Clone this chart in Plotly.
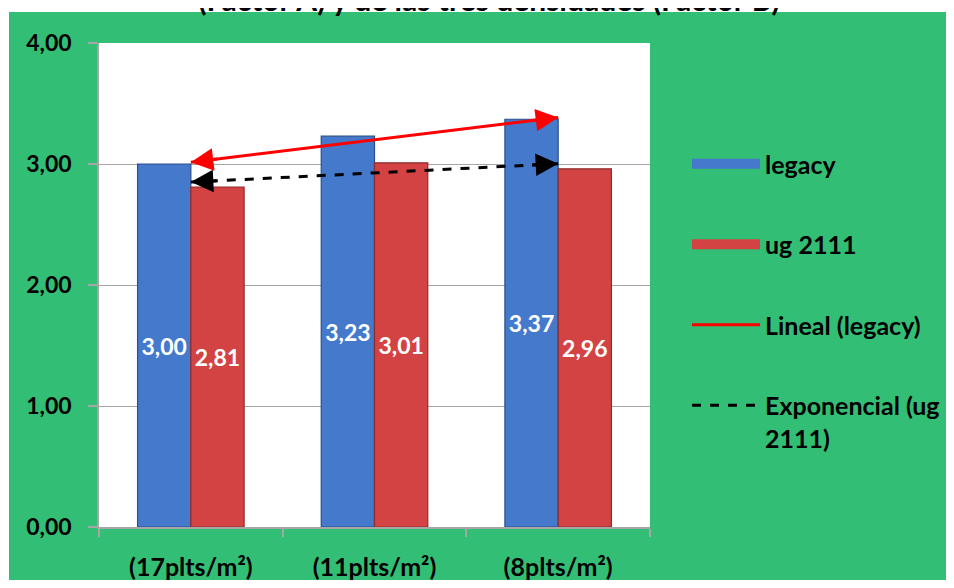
import numpy as np
import plotly.graph_objects as go

categories = ["(17plts/m²)", "(11plts/m²)", "(8plts/m²)"]
legacy = [3.00, 3.23, 3.37]
ug2111 = [2.81, 3.01, 2.96]
y_ticks = [0, 1, 2, 3, 4]
title_text = "(Factor A) y de las tres densidades (Factor B)"

FONT = "Lato"
GREEN = "#33BE75"
GRID = "#A6A6A6"
BLUE = "#4479CB"
RED = "#D44343"

xs = np.arange(len(categories), dtype=float)

# Excel-style trendlines
lin = np.polyfit(xs, legacy, 1)
lin_f = lambda x: float(np.polyval(lin, x))
expc = np.polyfit(xs, np.log(ug2111), 1)
exp_f = lambda x: float(np.exp(np.polyval(expc, x)))

# page has an 8px body margin: figure is placed at (8, 8); 8 + 938 + 8 = 954
W, H = 938, 572
px_left, px_right, px_top, px_bot = 91, 642, 35, 519


def px2x(p):
    return (p - px_left) / (px_right - px_left)


def px2y(p):
    return (px_bot - p) / (px_bot - px_top)


fig = go.Figure()
fig.add_trace(go.Bar(
    x=xs, y=legacy, name="legacy", showlegend=False,
    marker=dict(color=BLUE, line=dict(color="#2B4F8C", width=1.2)),
    texttemplate="%{y:.2f}", textposition="inside", insidetextanchor="middle",
    constraintext="none", cliponaxis=False,
    textfont=dict(family=FONT, size=23, color="white", weight="bold"),
))
fig.add_trace(go.Bar(
    x=xs, y=ug2111, name="ug 2111", showlegend=False,
    marker=dict(color=RED, line=dict(color="#8E2C2C", width=1.2)),
    texttemplate="%{y:.2f}", textposition="inside", insidetextanchor="middle",
    constraintext="none", cliponaxis=False,
    textfont=dict(family=FONT, size=23, color="white", weight="bold"),
))
# legend entries for the bars (wide bar-like swatches, as in the reference)
fig.add_trace(go.Scatter(
    x=[None], y=[None], mode="lines", name="legacy", legendgroup="a",
    line=dict(color=BLUE, width=14), hoverinfo="skip",
))
fig.add_trace(go.Scatter(
    x=[None], y=[None], mode="lines", name="ug 2111", legendgroup="b",
    line=dict(color=RED, width=14), hoverinfo="skip",
))
fig.add_trace(go.Scatter(
    x=xs, y=[lin_f(v) for v in xs], mode="lines", name="Lineal (legacy)",
    legendgroup="c", line=dict(color="#FF0000", width=3),
))
fig.add_trace(go.Scatter(
    x=xs, y=[exp_f(v) for v in xs], mode="lines", name="Exponencial (ug<br>2111)",
    legendgroup="d", line=dict(color="black", width=3, dash="dash"),
))

annotations = []


def arrow(x, f, dx, color):
    annotations.append(dict(
        x=x, y=f(x), ax=x + dx, ay=f(x + dx), xref="x", yref="y",
        axref="x", ayref="y", text="", showarrow=True, arrowhead=2,
        arrowsize=1.5, arrowwidth=3, arrowcolor=color, standoff=0,
    ))


arrow(0, lin_f, 0.15, "#FF0000")
arrow(2, lin_f, -0.15, "#FF0000")
arrow(0, exp_f, 0.15, "black")
arrow(2, exp_f, -0.15, "black")

shapes = [
    # green chart area (white strip left and top, as in the reference)
    dict(type="rect", xref="paper", yref="paper", layer="below",
         x0=px2x(1), x1=px2x(W + 8), y0=px2y(H + 8), y1=px2y(4),
         fillcolor=GREEN, line=dict(width=0)),
    dict(type="rect", xref="paper", yref="paper", layer="below",
         x0=0, x1=1, y0=0, y1=1, fillcolor="white", line=dict(width=0)),
]

fig.update_layout(
    width=W, height=H,
    margin=dict(l=px_left, r=W - px_right, t=px_top, b=H - px_bot,
                autoexpand=False),
    paper_bgcolor="white", plot_bgcolor="white",
    separators=",.",
    barmode="group", bargap=0.42, bargroupgap=0,
    font=dict(family=FONT, size=20, color="black"),
    title=dict(text=title_text, x=481 / W, xanchor="center",
               yref="container", y=1 - 3 / H, yanchor="bottom",
               font=dict(family=FONT, size=30, color="black", weight="bold")),
    showlegend=True,
    legend=dict(x=px2x(679), y=px2y(133), xanchor="left", yanchor="top",
                bgcolor="rgba(0,0,0,0)", tracegroupgap=45, valign="top",
                itemwidth=68,
                font=dict(family=FONT, size=25, color="black", weight="bold")),
    shapes=shapes,
    annotations=annotations,
)
fig.update_xaxes(
    range=[-0.5, 2.5], tickvals=list(xs), ticktext=categories,
    ticks="", showline=True, linecolor=GRID, linewidth=1.5, automargin=False,
    showgrid=False, zeroline=False, ticklabelstandoff=17,
    tickfont=dict(family=FONT, size=25, color="black", weight="bold"),
    minor=dict(tickvals=[-0.5, 0.5, 1.5, 2.5], ticks="outside", ticklen=8,
               tickcolor=GRID, tickwidth=1.5, showgrid=False),
)
fig.update_yaxes(
    range=[0, 4], tickvals=y_ticks, tickformat=".2f", automargin=False,
    ticks="outside", ticklen=9, tickcolor=GRID, tickwidth=1.5,
    showline=True, linecolor=GRID, linewidth=1.5,
    showgrid=True, gridcolor=GRID, gridwidth=1, zeroline=False,
    ticklabelstandoff=12,
    tickfont=dict(family=FONT, size=23, color="black", weight="bold"),
)

fig.write_html("out.html")
